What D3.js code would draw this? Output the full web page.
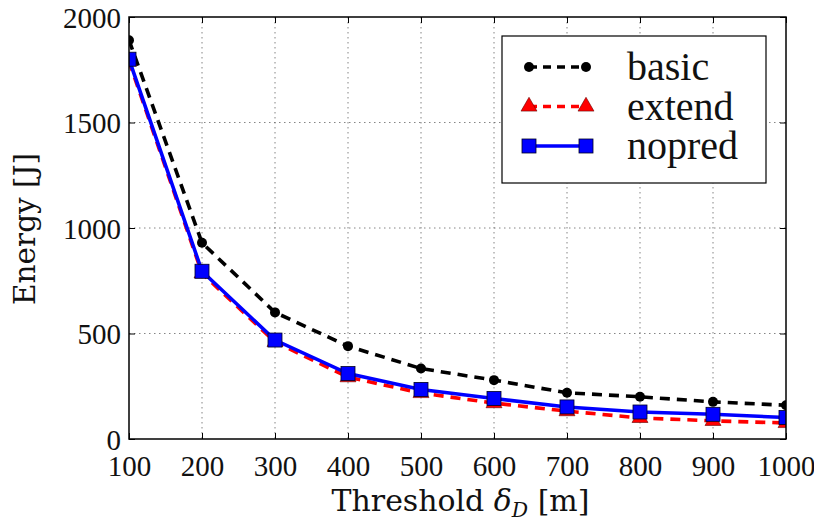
<!DOCTYPE html>
<html>
<head>
<meta charset="utf-8">
<script src="https://cdn.jsdelivr.net/npm/d3@7"></script>
<style>
  body { margin: 0; background: #fff; }
  text { font-family: "Liberation Serif", "DejaVu Serif", serif; }
</style>
</head>
<body>
<svg id="chart" width="814" height="530"></svg>
<script>
// thresholds along x
var thresholds = [100, 200, 300, 400, 500, 600, 700, 800, 900, 1000];
// energy per scheme
var basic  = [1890, 930, 600, 440, 334, 279, 219, 200, 176, 160];
var extend = [1790, 785, 460, 293, 218, 170, 132, 100, 86, 76];
var nopred = [1800, 795, 469, 310, 235, 192, 152, 128, 117, 102];

var xTicks = [100, 200, 300, 400, 500, 600, 700, 800, 900, 1000];
var yTicks = [0, 500, 1000, 1500, 2000];

var series = [
  { name: 'basic',  values: basic,  color: '#000', dash: '10,7', marker: 'circle' },
  { name: 'extend', values: extend, color: '#ff0000', dash: '10,7', marker: 'triangle' },
  { name: 'nopred', values: nopred, color: '#0000ff', dash: null, marker: 'square' }
];

var margin = { left: 129, right: 28, top: 17, bottom: 91 };
var width = 814 - margin.left - margin.right,
  height = 530 - margin.top - margin.bottom;

var svg = d3.select('#chart');
var g = svg.append('g')
  .attr('transform', 'translate(' + margin.left + ',' + margin.top + ')');

var x = d3.scaleLinear().domain([100, 1000]).range([0, width]);
var y = d3.scaleLinear().domain([0, 2000]).range([height, 0]);

svg.append('defs').append('clipPath').attr('id', 'clip')
  .append('rect').attr('width', width).attr('height', height);

// grid
g.append('g').selectAll('line').data(xTicks.slice(1, -1)).enter().append('line')
  .attr('x1', x).attr('x2', x).attr('y1', 0).attr('y2', height)
  .attr('stroke', '#666').attr('stroke-width', 0.8).attr('stroke-dasharray', '1.5,3.5');
g.append('g').selectAll('line').data(yTicks.slice(1, -1)).enter().append('line')
  .attr('y1', y).attr('y2', y).attr('x1', 0).attr('x2', width)
  .attr('stroke', '#666').attr('stroke-width', 0.8).attr('stroke-dasharray', '1.5,3.5');

// axes with inward ticks
var fmt = d3.format('d');
var xAxis = g.append('g').attr('transform', 'translate(0,' + height + ')')
  .call(d3.axisBottom(x).tickValues(xTicks).tickFormat(fmt).tickSizeInner(-6).tickSizeOuter(0).tickPadding(16));
var xTop = g.append('g')
  .call(d3.axisTop(x).tickValues(xTicks).tickSizeInner(-6).tickSizeOuter(0).tickFormat(''));
var yAxis = g.append('g')
  .call(d3.axisLeft(y).tickValues(yTicks).tickFormat(fmt).tickSizeInner(-6).tickSizeOuter(0).tickPadding(8));
var yRight = g.append('g').attr('transform', 'translate(' + width + ',0)')
  .call(d3.axisRight(y).tickValues(yTicks).tickSizeInner(-6).tickSizeOuter(0).tickFormat(''));

[xAxis, xTop, yAxis, yRight].forEach(function(a) {
  a.select('.domain').remove();
  a.selectAll('line').attr('stroke', '#000').attr('stroke-width', 1);
  a.selectAll('text').attr('font-size', 29).attr('fill', '#111');
});
xAxis.selectAll('text').attr('dy', '0.71em');
yAxis.selectAll('text').attr('dy', '0.36em');

// series
var plot = g.append('g').attr('clip-path', 'url(#clip)');
var line = d3.line()
  .x(function(d, i) { return x(thresholds[i]); })
  .y(function(d) { return y(d); });

function drawMarker(sel, type, color) {
  if (type === 'circle') {
    sel.append('circle').attr('r', 5).attr('fill', color);
  } else if (type === 'triangle') {
    sel.append('path').attr('d', d3.symbol().type(d3.symbolTriangle).size(110)())
      .attr('fill', color).attr('stroke', '#600').attr('stroke-width', 0.6);
  } else {
    sel.append('rect').attr('x', -7).attr('y', -7).attr('width', 14).attr('height', 14)
      .attr('fill', color).attr('stroke', '#002').attr('stroke-width', 0.8);
  }
}

series.forEach(function(s) {
  plot.append('path').datum(s.values)
    .attr('d', line).attr('fill', 'none')
    .attr('stroke', s.color).attr('stroke-width', 3.6)
    .attr('stroke-dasharray', s.dash);
  plot.selectAll('.m-' + s.name).data(s.values).enter().append('g')
    .attr('class', 'm-' + s.name)
    .attr('transform', function(d, i) { return 'translate(' + x(thresholds[i]) + ',' + y(d) + ')'; })
    .each(function() { drawMarker(d3.select(this), s.marker, s.color); });
});

// frame
g.append('rect').attr('width', width).attr('height', height)
  .attr('fill', 'none').attr('stroke', '#000').attr('stroke-width', 1.5);

// legend
var lg = g.append('g').attr('transform', 'translate(' + (502 - margin.left) + ',' + (36 - margin.top) + ')');
lg.append('rect').attr('width', 264).attr('height', 147)
  .attr('fill', '#fff').attr('stroke', '#000').attr('stroke-width', 1.2);
series.forEach(function(s, i) {
  var row = lg.append('g').attr('transform', 'translate(0,' + (31 + i * 39.5) + ')');
  row.append('line').attr('x1', 27).attr('x2', 84).attr('y1', 0).attr('y2', 0)
    .attr('stroke', s.color).attr('stroke-width', 3.6).attr('stroke-dasharray', s.dash ? '8,6' : null);
  [27, 84].forEach(function(px) {
    var m = row.append('g').attr('transform', 'translate(' + px + ',0)');
    drawMarker(m, s.marker, s.color);
  });
  row.append('text').attr('x', 125).attr('y', 13).attr('font-size', 40).attr('fill', '#111').text(s.name);
});

// axis titles, sized to the reference's lengths
function fitText(t, target) {
  var len = t.node().getComputedTextLength();
  var fs = +t.attr('font-size');
  t.attr('font-size', fs * target / len);
}
var xt = svg.append('text').attr('x', margin.left + width / 2 + 3).attr('y', 511)
  .attr('text-anchor', 'middle').attr('font-size', 27).attr('fill', '#111')
  .style('font-family', '"DejaVu Serif", serif')
  .html('Threshold <tspan font-style="italic">δ</tspan><tspan font-style="italic" font-size="0.68em" dy="6">D</tspan><tspan dy="-6"> [m]</tspan>');
fitText(xt, 258);
var yt = svg.append('text').attr('transform', 'translate(35,' + 229 + ') rotate(-90)')
  .attr('text-anchor', 'middle').attr('font-size', 27).attr('fill', '#111')
  .style('font-family', '"DejaVu Serif", serif')
  .text('Energy [J]');
fitText(yt, 152);
</script>
</body>
</html>
